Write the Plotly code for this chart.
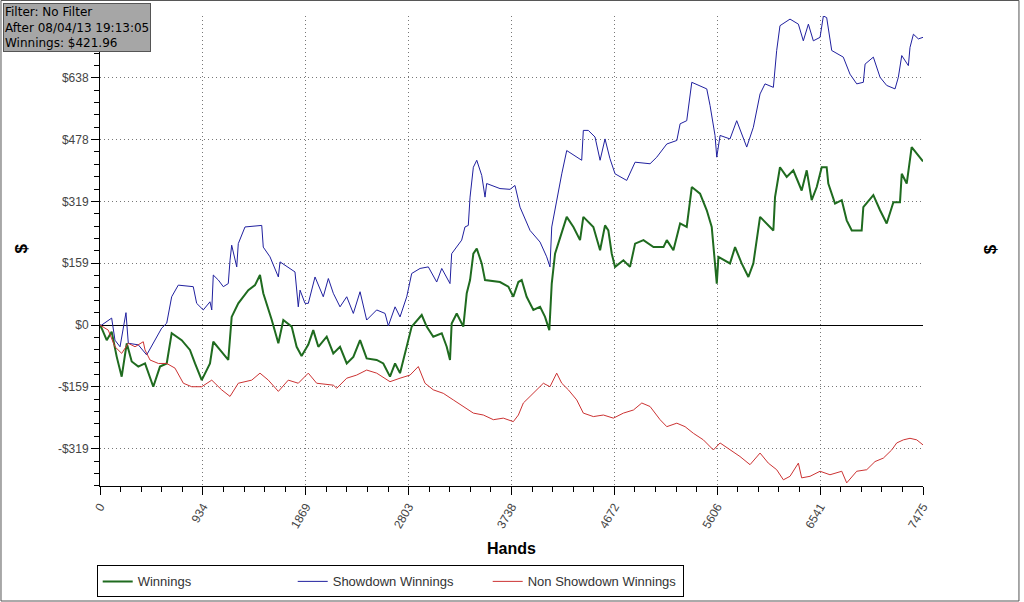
import plotly.graph_objects as go

# --- dati (mani, dollari) ---------------------------------------------
win_hands = [0, 15, 61, 106, 152, 197, 243, 288, 348, 409, 484, 545, 606, 651, 742, 817, 863, 924,
             999, 1029, 1090, 1165, 1196, 1256, 1347, 1408, 1453, 1483, 1560, 1620, 1665, 1741, 1786,
             1831, 1892, 1937, 1983, 2059, 2119, 2180, 2241, 2301, 2362, 2422, 2513, 2573, 2634, 2680,
             2725, 2786, 2831, 2922, 2967, 3027, 3104, 3149, 3179, 3194, 3240, 3300, 3315, 3331, 3361,
             3391, 3422, 3467, 3497, 3633, 3709, 3754, 3800, 3830, 3875, 3936, 3997, 4042, 4081, 4103,
             4133, 4178, 4239, 4300, 4360, 4390, 4481, 4542, 4587, 4617, 4648, 4678, 4754, 4814, 4860,
             4936, 5027, 5118, 5148, 5208, 5239, 5269, 5329, 5375, 5450, 5511, 5556, 5586, 5602, 5617,
             5722, 5768, 5828, 5889, 5934, 5995, 6056, 6116, 6131, 6176, 6237, 6297, 6373, 6419, 6464,
             6510, 6555, 6600, 6615, 6676, 6737, 6782, 6828, 6918, 6933, 7024, 7085, 7145, 7206, 7266,
             7282, 7327, 7372, 7418, 7475]
win_values = [0, -8, -39, -17, -82, -133, -47, -94, -107, -99, -159, -107, -99, -21, -39, -64, -99, -142,
              -99, -43, -64, -90, 21, 56, 90, 103, 129, 82, 13, -47, 13, -4, -56,
              -80, -50, -13, -56, -30, -73, -56, -99, -82, -39, -86, -90, -99, -133, -99,
              -124, -56, -4, 26, -4, -30, -21, -56, -90, 4, 30, -4, 47, 82, 116,
              184, 197, 159, 116, 111, 99, 73, 111, 116, 73, 39, 47, 21, -13, 107,
              184, 227, 279, 253, 219, 279, 253, 193, 257, 244, 184, 150, 167, 150, 210,
              219, 201, 201, 219, 193, 227, 262, 253, 356, 339, 296, 253, 159, 107, 176,
              159, 201, 159, 124, 159, 279, 262, 244, 330, 407, 382, 399, 347, 399, 322,
              356, 407, 407, 365, 313, 322, 270, 244, 244, 304, 335, 296, 262, 317, 317,
              390, 365, 459, 442, 422]

sd_hands = [0, 15, 106, 136, 182, 236, 257, 348, 424, 500, 560, 606, 651, 711, 847, 878, 938, 999,
            1015, 1029, 1075, 1120, 1165, 1181, 1196, 1242, 1256, 1317, 1469, 1483, 1544, 1620, 1635,
            1771, 1801, 1817, 1862, 1892, 1953, 2028, 2074, 2119, 2180, 2241, 2301, 2362, 2422, 2513,
            2589, 2619, 2680, 2725, 2786, 2831, 2907, 2982, 3058, 3104, 3179, 3194, 3285, 3315, 3345,
            3361, 3391, 3422, 3467, 3497, 3512, 3633, 3724, 3769, 3815, 3906, 3997, 4057, 4087, 4103,
            4148, 4194, 4239, 4330, 4375, 4390, 4435, 4496, 4542, 4587, 4632, 4678, 4784, 4860, 4996,
            5057, 5148, 5239, 5269, 5329, 5375, 5511, 5541, 5586, 5602, 5632, 5722, 5783, 5874, 5934,
            5995, 6040, 6116, 6146, 6176, 6267, 6343, 6388, 6434, 6479, 6540, 6570, 6600, 6646, 6751,
            6812, 6873, 6933, 6949, 7024, 7085, 7145, 7221, 7251, 7282, 7342, 7357, 7388, 7433, 7475]
sd_values = [0, 0, 18, -39, -56, 32, -47, -51, -77, -39, -8, 5, 73, 103, 99, 56, 39, 60,
             39, 129, 116, 99, 107, 167, 206, 150, 210, 253, 257, 201, 176, 124, 163,
             137, 47, 90, 56, 56, 124, 73, 120, 82, 47, 73, 30, 86, 13, 39,
             30, -2, 47, 21, 73, 133, 146, 150, 111, 146, 107, 184, 219, 253, 257,
             330, 407, 425, 386, 330, 365, 352, 350, 360, 304, 244, 214, 176, 150, 253,
             322, 390, 450, 433, 425, 502, 502, 485, 425, 480, 429, 390, 373, 420, 416,
             433, 467, 476, 519, 527, 626, 609, 566, 489, 433, 489, 480, 527, 459, 510,
             596, 622, 613, 708, 772, 789, 776, 733, 776, 733, 742, 797, 793, 708, 691,
             647, 622, 626, 673, 691, 639, 618, 609, 639, 695, 669, 716, 750, 738, 742]

nsd_hands = [0, 15, 75, 136, 197, 257, 318, 393, 409, 454, 530, 606, 681, 757, 833, 924, 1015, 1105,
             1181, 1256, 1378, 1453, 1529, 1620, 1710, 1801, 1892, 1968, 2119, 2150, 2241, 2331, 2422,
             2513, 2634, 2725, 2816, 2891, 2952, 3027, 3118, 3209, 3300, 3391, 3482, 3573, 3663, 3754,
             3800, 3845, 3906, 3966, 4027, 4087, 4148, 4194, 4254, 4330, 4390, 4481, 4572, 4663, 4754,
             4845, 4921, 4996, 5087, 5148, 5239, 5314, 5389, 5480, 5571, 5632, 5722, 5813, 5904, 5995,
             6070, 6146, 6207, 6267, 6343, 6373, 6449, 6540, 6630, 6737, 6782, 6873, 6964, 7039, 7115,
             7191, 7236, 7297, 7357, 7418, 7475]
nsd_values = [0, -3, -13, -56, -73, -47, -56, -43, -64, -90, -99, -99, -111, -150, -159, -159, -142, -167,
              -184, -150, -142, -124, -142, -171, -142, -150, -124, -150, -155, -163, -137, -129, -116,
              -124, -146, -137, -129, -107, -150, -167, -176, -193, -210, -227, -232, -244, -240, -249,
              -232, -201, -184, -167, -150, -159, -124, -150, -167, -193, -227, -236, -232, -240, -227,
              -219, -201, -210, -244, -262, -253, -262, -279, -296, -322, -304, -322, -339, -360, -330,
              -356, -373, -399, -390, -356, -394, -390, -377, -386, -377, -407, -377, -373, -352, -343,
              -322, -304, -296, -292, -296, -309]

# tick degli assi
x_ticks = [0, 934, 1869, 2803, 3738, 4672, 5606, 6541, 7475]
y_ticks = [-318.8, -159.4, 0, 159.4, 318.8, 478.2, 637.6, 797]
y_labels = ["-$319", "-$159", "$0", "$159", "$319", "$478", "$638", "$797"]
# a sinistra il $797 e' coperto dal riquadro info
y_labels_left = y_labels[:-1] + [""]

x_range = [0, 7475]
y_range = [-415, 797]

font_main = "Liberation Sans, Arial, sans-serif"

fig = go.Figure()
fig.add_trace(go.Scatter(x=win_hands, y=win_values, mode="lines", name="Winnings",
                         line=dict(color="#1f6b1f", width=2)))
fig.add_trace(go.Scatter(x=sd_hands, y=sd_values, mode="lines", name="Showdown Winnings",
                         line=dict(color="#20209f", width=1)))
fig.add_trace(go.Scatter(x=nsd_hands, y=nsd_values, mode="lines", name="Non Showdown Winnings",
                         line=dict(color="#cc3333", width=1)))

tick_font = dict(family=font_main, size=12, color="#444")
grid_dash = "1px,3px"

fig.update_layout(
    width=1024, height=602,
    margin=dict(l=100, r=101, t=16, b=116, autoexpand=False),
    paper_bgcolor="white", plot_bgcolor="white",
    font=dict(family=font_main, size=12, color="#333"),
    showlegend=True,
    legend=dict(orientation="h", x=-0.004, xanchor="left", y=-0.169, yanchor="top",
                bordercolor="black", borderwidth=1, bgcolor="white",
                entrywidth=150, entrywidthmode="pixels",
                font=dict(family=font_main, size=13, color="#333"),
                tracegroupgap=0),
    xaxis=dict(range=x_range, tickvals=x_ticks, ticktext=[str(v) for v in x_ticks],
               tickangle=-60, tickfont=tick_font, automargin=False,
               showline=True, linecolor="black", linewidth=1,
               ticks="outside", ticklen=8, tickcolor="black",
               minor=dict(dtick=186.875, tick0=0, ticks="outside", ticklen=5, tickcolor="black",
                          showgrid=False),
               showgrid=True, gridcolor="#777", griddash=grid_dash, gridwidth=1,
               zeroline=False,
               title=dict(text="<b>Hands</b>", font=dict(family=font_main, size=16, color="black"),
                          standoff=12)),
    xaxis2=dict(range=x_range, overlaying="x", side="top", anchor="y", automargin=False,
                tickvals=x_ticks, showticklabels=False,
                showline=True, linecolor="black", linewidth=1,
                ticks="inside", ticklen=6, tickcolor="black",
                minor=dict(dtick=186.875, tick0=0, ticks="inside", ticklen=4, tickcolor="black"),
                showgrid=False, zeroline=False),
    yaxis=dict(range=y_range, tickvals=y_ticks, ticktext=y_labels_left, tickfont=tick_font,
               automargin=False,
               showline=True, linecolor="black", linewidth=1,
               ticks="outside", ticklen=8, tickcolor="black",
               minor=dict(dtick=31.88, tick0=0, ticks="outside", ticklen=5, tickcolor="black",
                          showgrid=False),
               showgrid=True, gridcolor="#777", griddash=grid_dash, gridwidth=1,
               zeroline=True, zerolinecolor="black", zerolinewidth=1),
    yaxis2=dict(range=y_range, overlaying="y", side="right", anchor="x", automargin=False,
                tickvals=y_ticks, ticktext=y_labels, tickfont=tick_font,
                showline=True, linecolor="black", linewidth=1,
                ticks="outside", ticklen=8, tickcolor="black",
                minor=dict(dtick=31.88, tick0=0, ticks="outside", ticklen=5, tickcolor="black"),
                showgrid=False, zeroline=False),
)

# titoli "$" ai due lati
for xpos in [-0.095, 1.082]:
    fig.add_annotation(xref="paper", yref="paper", x=xpos, y=0.505, xanchor="center",
                       text="<b>$</b>", textangle=-90, showarrow=False,
                       font=dict(family=font_main, size=17, color="black"))

# riquadro info in alto a sinistra
fig.add_annotation(
    xref="paper", yref="paper", x=-0.118, y=1.028, xanchor="left", yanchor="top",
    text="Filter: No Filter<br>After 08/04/13 19:13:05<br>Winnings: $421.96",
    align="left", showarrow=False,
    font=dict(family="DejaVu Sans, Verdana, sans-serif", size=12, color="black"),
    bgcolor="#a6a6a6", bordercolor="#555", borderwidth=1, borderpad=1,
)

# cornice dell'immagine
fig.add_shape(type="rect", xref="paper", yref="paper",
              x0=-0.1203, x1=1.1166, y0=-0.2447, y1=1.033,
              line=dict(color="#555", width=1), layer="below")

# niente margine di pagina, cosi' il grafico parte da (0,0)
fig.write_html("out.html", config={"displayModeBar": False},
               post_script="document.body.style.margin = '0';")
